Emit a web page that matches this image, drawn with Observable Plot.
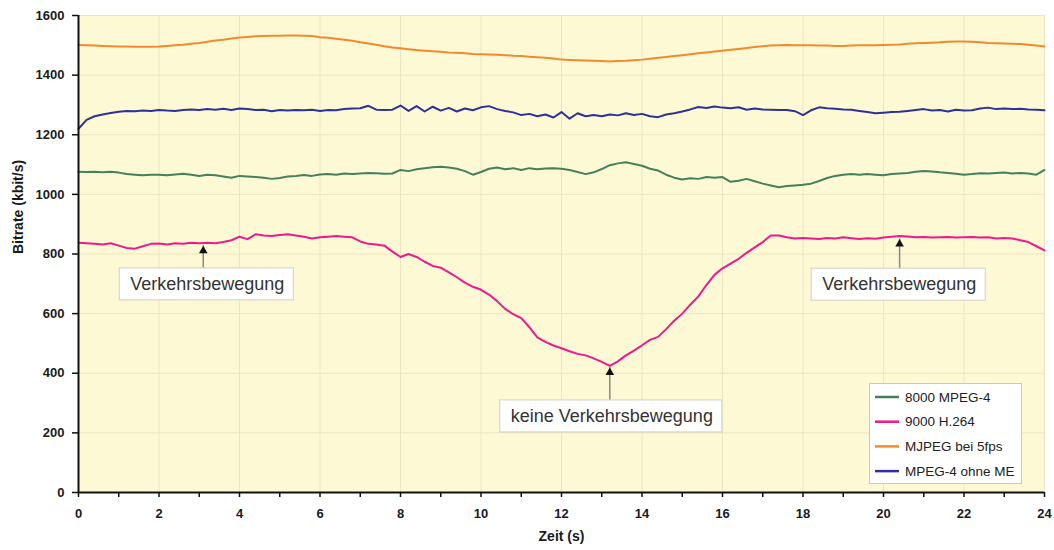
<!DOCTYPE html>
<html>
<head>
<meta charset="utf-8">
<script src="https://cdn.jsdelivr.net/npm/d3@7"></script>
<script src="https://cdn.jsdelivr.net/npm/@observablehq/plot@0.6"></script>
<style>
  body { margin: 0; background: #fff; }
  #chart { width: 1054px; height: 550px; }
</style>
</head>
<body>
<div id="chart"></div>
<script>
// ---- data (sampled every 0.2 s, 0 … 24 s) ----
const sampleStep = 0.2;
const seriesNames = ["8000 MPEG-4", "9000 H.264", "MJPEG bei 5fps", "MPEG-4 ohne ME"];
const seriesColors = ["#44805c", "#ee1a8c", "#f28a2c", "#30309a"];

const mpeg4_8000 = [
  1076,1075,1076,1074,1076,1073,1068,1066,1064,1066,
  1066,1064,1067,1069,1066,1062,1066,1064,1060,1056,
  1062,1060,1058,1056,1052,1055,1060,1062,1065,1062,
  1067,1068,1066,1070,1068,1070,1072,1071,1069,1070,
  1082,1078,1084,1088,1091,1093,1090,1086,1078,1066,
  1075,1086,1090,1084,1088,1082,1088,1084,1087,1088,
  1086,1082,1075,1068,1074,1085,1098,1104,1108,1102,
  1096,1086,1080,1066,1056,1050,1054,1052,1058,1056,
  1058,1042,1046,1052,1044,1036,1030,1024,1028,1030,
  1032,1036,1045,1055,1062,1066,1068,1066,1068,1066,
  1064,1068,1070,1072,1076,1078,1077,1074,1072,1069,
  1066,1068,1071,1070,1072,1073,1070,1072,1070,1066,
  1082
];
const h264_9000 = [
  838,836,834,832,836,828,820,818,826,834,
  835,832,836,834,838,836,838,836,840,846,
  858,850,866,862,860,864,866,862,858,852,
  856,858,860,858,856,842,834,832,828,808,
  790,800,790,774,760,754,738,722,704,690,
  680,664,642,616,598,585,555,520,505,493,
  484,474,465,460,450,438,425,440,460,476,
  494,512,522,548,576,600,630,658,696,730,
  752,768,784,804,822,840,862,862,856,852,
  854,852,850,854,852,856,853,850,853,851,
  855,858,860,859,856,857,855,856,857,855,
  856,857,855,856,852,854,852,846,840,826,
  812
];
const mjpeg_5fps = [
  1501,1500,1499,1498,1497,1496,1496,1495,1495,1495,
  1496,1498,1500,1502,1505,1508,1512,1516,1519,1523,
  1526,1528,1530,1531,1532,1532,1533,1533,1532,1531,
  1527,1525,1522,1519,1515,1510,1506,1502,1497,1493,
  1490,1487,1484,1482,1480,1478,1476,1475,1473,1471,
  1470,1469,1468,1467,1465,1464,1462,1460,1458,1456,
  1452,1451,1450,1449,1448,1447,1446,1447,1448,1450,
  1452,1455,1458,1461,1464,1467,1470,1473,1476,1479,
  1482,1485,1488,1491,1494,1497,1499,1500,1501,1500,
  1500,1500,1499,1499,1498,1498,1499,1500,1500,1500,
  1501,1502,1503,1505,1507,1508,1509,1510,1512,1513,
  1513,1512,1510,1508,1507,1506,1505,1504,1502,1499,
  1496
];
const mpeg4_noME = [
  1220,1250,1262,1268,1273,1277,1280,1279,1281,1280,
  1283,1281,1280,1283,1285,1283,1286,1284,1287,1283,
  1288,1286,1283,1284,1279,1283,1281,1283,1282,1284,
  1280,1283,1282,1286,1288,1289,1297,1284,1283,1284,
  1298,1280,1296,1278,1294,1281,1290,1278,1288,1282,
  1292,1296,1286,1280,1275,1266,1270,1262,1268,1258,
  1276,1254,1272,1262,1266,1262,1268,1265,1272,1266,
  1270,1262,1259,1268,1272,1278,1285,1293,1290,1295,
  1291,1289,1292,1284,1288,1285,1284,1283,1283,1279,
  1266,1282,1292,1289,1287,1285,1284,1280,1276,1272,
  1274,1276,1277,1280,1283,1286,1281,1283,1278,1284,
  1281,1282,1288,1291,1286,1288,1286,1287,1285,1284,
  1282
];

const xTicks = [0,1,2,3,4,5,6,7,8,9,10,11,12,13,14,15,16,17,18,19,20,21,22,23,24];
const yTicks = [0,200,400,600,800,1000,1200,1400,1600];
const xTitle = "Zeit (s)";
const yTitle = "Bitrate (kbit/s)";

// annotations: arrow tip (t, v) and label centre (lt, lv)
const annLabels = ["Verkehrsbewegung", "keine Verkehrsbewegung", "Verkehrsbewegung"];
const annT  = [3.1, 13.2, 20.4];
const annV  = [828, 419, 850];
const annLT = [3.2, 13.25, 20.39];
const annLV = [699, 256, 698];

// ---- build tables ----
const seriesValues = [mpeg4_8000, h264_9000, mjpeg_5fps, mpeg4_noME];
const rows = [];
seriesValues.forEach((vals, k) => vals.forEach((v, i) =>
  rows.push({t: Math.round(i * sampleStep * 10) / 10, v, s: seriesNames[k]})));
const ann = annLabels.map((label, i) => ({label, t: annT[i], v: annV[i], lt: annLT[i], lv: annLV[i]}));

const FONT = "'Liberation Sans', Arial, Helvetica, sans-serif";

const svgEl = Plot.plot({
  width: 1054,
  height: 550,
  marginLeft: 78,
  marginRight: 10,
  marginTop: 15,
  marginBottom: 58,
  style: {fontFamily: FONT, background: "#fff", color: "#1a1a1a"},
  x: {domain: [0, 24]},
  y: {domain: [0, 1600]},
  color: {domain: seriesNames, range: seriesColors},
  marks: [
    Plot.frame({fill: "#fdf9d5", stroke: "#ece6c6"}),
    Plot.gridX(xTicks.filter(d => d % 2 === 0 && d > 0), {stroke: "#ebe4c2", strokeOpacity: 1, strokeWidth: 1}),
    Plot.gridY(yTicks.filter(d => d > 0), {stroke: "#ebe4c2", strokeOpacity: 1, strokeWidth: 1}),
    Plot.line(rows, {x: "t", y: "v", z: "s", stroke: "s", strokeWidth: 2, curve: "linear"}),
    Plot.ruleX(ann, {x: "t", y1: "lv", y2: "v", stroke: "#8a8a80", strokeWidth: 1.5}),
    Plot.dot(ann, {x: "t", y: "v", symbol: "triangle", r: 3.2, fill: "#111", stroke: null, dy: 5}),
    Plot.text(ann, {x: "lt", y: "lv", text: "label", fontSize: 18, fill: "#333", ariaDescription: "annotation"}),
    Plot.ruleX([0], {stroke: "#111", strokeWidth: 2}),
    Plot.ruleY([0], {stroke: "#111", strokeWidth: 2}),
    Plot.axisY({ticks: yTicks, tickFormat: d => String(d), tickSize: 6, tickPadding: 8, fontSize: 13, fontWeight: "bold", label: null, stroke: "#111", strokeWidth: 1.5}),
    Plot.axisX({ticks: xTicks, tickFormat: d => d % 2 ? "" : String(d), tickSize: 5, tickPadding: 11, fontSize: 13, fontWeight: "bold", label: null, stroke: "#111", strokeWidth: 1.5}),
    Plot.text([yTitle], {frameAnchor: "left", dx: -60, rotate: -90, fontSize: 14, fontWeight: "bold", fill: "#1a1a1a"}),
    Plot.text([xTitle], {frameAnchor: "bottom", dy: 48, fontSize: 14, fontWeight: "bold", fill: "#1a1a1a"})
  ]
});

document.getElementById("chart").appendChild(svgEl);
const svg = d3.select(svgEl);

// white boxes behind annotation labels
svg.selectAll('g[aria-description="annotation"] text').each(function () {
  const b = this.getBBox();
  const tr = this.getAttribute("transform");
  const r = d3.select(this.parentNode).insert("rect", () => this)
    .attr("x", b.x - 11)
    .attr("y", b.y - 6)
    .attr("width", b.width + 20).attr("height", b.height + 12)
    .attr("fill", "#fff").attr("stroke", "#cfcfc8").attr("stroke-width", 1);
  if (tr) r.attr("transform", tr);
});

// legend (inside plot area, bottom right)
const lg = svg.append("g").attr("font-family", FONT).attr("font-size", 13.5).attr("text-anchor", "start");
lg.append("rect").attr("x", 869.5).attr("y", 383.5).attr("width", 152).attr("height", 100)
  .attr("fill", "#fff").attr("stroke", "#c8c8c0");
seriesNames.forEach((name, i) => {
  const yy = 397 + i * 24.7;
  lg.append("line").attr("x1", 875).attr("x2", 899).attr("y1", yy).attr("y2", yy)
    .attr("stroke", seriesColors[i]).attr("stroke-width", 2.5);
  lg.append("text").attr("x", 905).attr("y", yy).attr("dy", "0.35em").attr("fill", "#222")
    .attr("text-anchor", "start").text(name);
});
</script>
</body>
</html>
